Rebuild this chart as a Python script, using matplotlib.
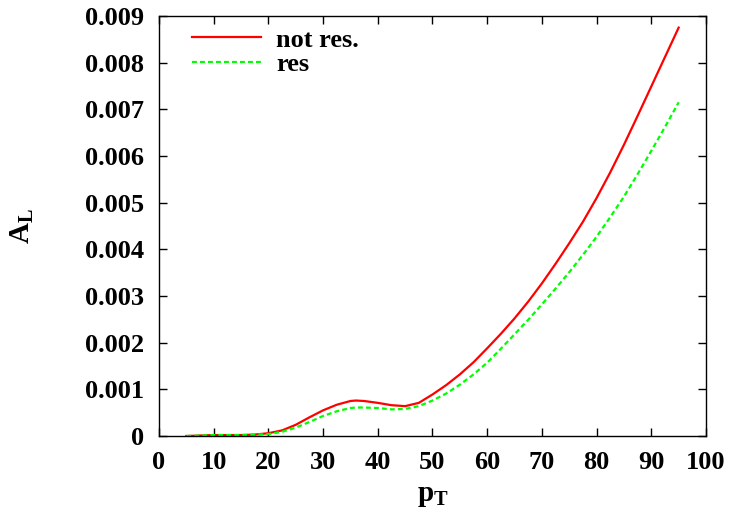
import matplotlib
matplotlib.use("Agg")
import matplotlib.pyplot as plt

# longitudinal asymmetry vs transverse momentum
pt = [5, 7.5, 10, 12.5, 15, 17.5, 20, 22.5, 25, 27.5, 30, 32.5, 35, 36,
      37.5, 40, 42.5, 45, 47.5, 50, 52.5, 55, 57.5, 60, 62.5, 65, 67.5,
      70, 72.5, 75, 77.5, 80, 82.5, 85, 87.5, 90, 92.5, 95]

al_not_res = [0.0, 0.00001, 0.00002, 0.00002, 0.00002, 0.00003, 0.00006,
              0.00012, 0.00024, 0.00040, 0.00055, 0.00067, 0.00075, 0.00076,
              0.00075, 0.00071, 0.00066, 0.00064, 0.00071, 0.00089, 0.00109,
              0.00132, 0.00158, 0.00188, 0.00219, 0.00252, 0.00288, 0.00327,
              0.00369, 0.00413, 0.00459, 0.00510, 0.00565, 0.00624, 0.00686,
              0.00749, 0.00812, 0.00875]

al_res = [0.0, 0.00001, 0.00002, 0.00002, 0.00002, 0.00003, 0.00004,
          0.00009, 0.00018, 0.00030, 0.00043, 0.00053, 0.00060, 0.00061,
          0.00061, 0.00060, 0.00057, 0.00058, 0.00064, 0.00076, 0.00091,
          0.00110, 0.00132, 0.00157, 0.00187, 0.00218, 0.00249, 0.00282,
          0.00316, 0.00351, 0.00388, 0.00427, 0.00469, 0.00513, 0.00561,
          0.00611, 0.00662, 0.00715]

x_ticks = [0, 10, 20, 30, 40, 50, 60, 70, 80, 90, 100]
y_ticks = [0, 0.001, 0.002, 0.003, 0.004, 0.005, 0.006, 0.007, 0.008, 0.009]
y_labels = ["0", "0.001", "0.002", "0.003", "0.004", "0.005", "0.006",
            "0.007", "0.008", "0.009"]

plt.rcParams["font.family"] = "Liberation Serif"
plt.rcParams["font.weight"] = "bold"
plt.rcParams["mathtext.fontset"] = "custom"
plt.rcParams["mathtext.rm"] = "Liberation Serif:bold"
plt.rcParams["mathtext.it"] = "Liberation Serif:bold"
plt.rcParams["mathtext.bf"] = "Liberation Serif:bold"

fig = plt.figure(figsize=(7.31, 5.15), dpi=100)
ax = fig.add_axes([0.2175, 0.1534, 0.7483, 0.8156])

ax.plot(pt, al_not_res, color="#ff0000", lw=1.6, label="not res.")
ax.plot(pt, al_res, color="#00ff00", lw=1.6, dashes=(2.2, 1.4), label="res")

ax.set_xlim(0, 100)
ax.set_ylim(0, 0.009)
ax.set_xticks(x_ticks)
ax.set_yticks(y_ticks)
ax.set_yticklabels(y_labels)
ax.tick_params(direction="in", length=6, width=1, top=True, right=True,
               labelsize=19, pad=11)
for sp in ax.spines.values():
    sp.set_linewidth(1.0)

ax.set_xlabel(r"$\mathrm{p_T}$", fontsize=21, labelpad=6)
ax.set_ylabel(r"$\mathrm{A_L}$", fontsize=21, labelpad=35)

ax.legend(loc="upper left", frameon=False, fontsize=19, handlelength=2.6,
          handletextpad=0.6, labelspacing=0.05, borderaxespad=0.3,
          bbox_to_anchor=(0.0265, 1.015))

fig.savefig("out.png", dpi=100)
